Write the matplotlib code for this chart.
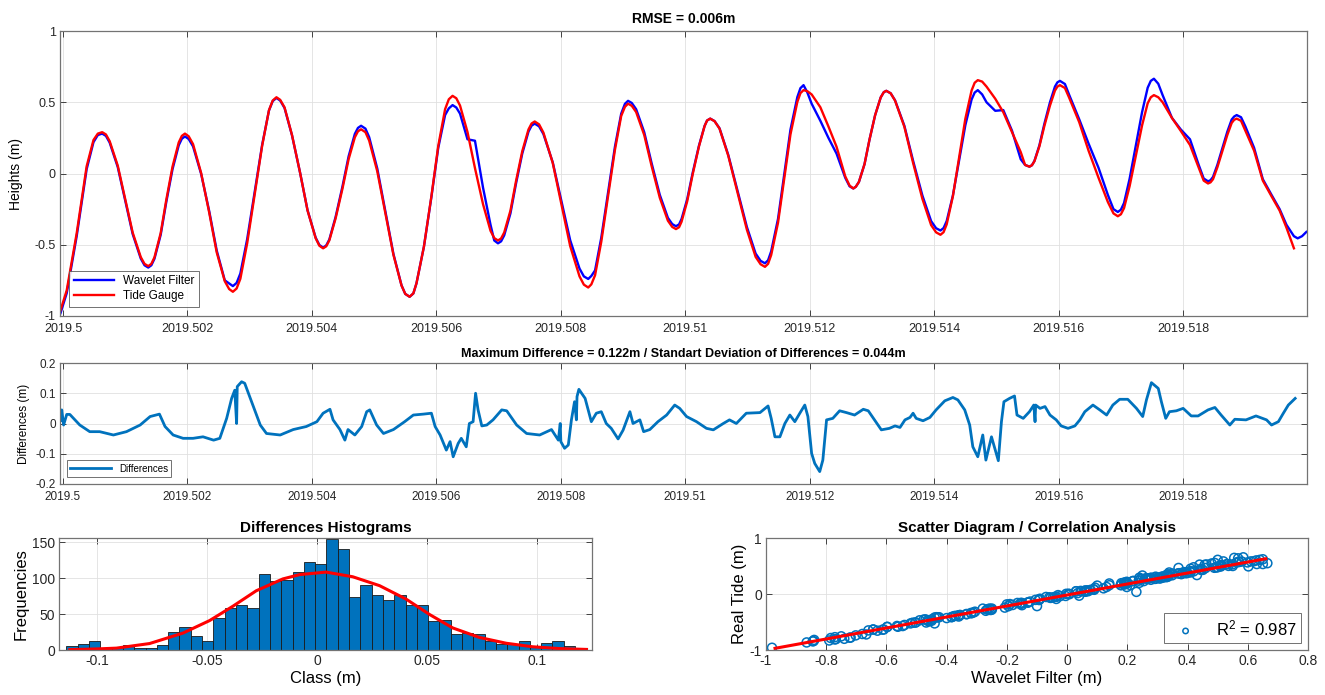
import numpy as np
import matplotlib.pyplot as plt

plt.rcParams['font.family'] = ['Liberation Sans', 'DejaVu Sans']
plt.rcParams['mathtext.fontset'] = 'custom'
plt.rcParams['mathtext.rm'] = 'Liberation Sans'
plt.rcParams['mathtext.it'] = 'Liberation Sans:italic'

# time offsets in 1e-5 year from 2019.5
t_top_e5 = [
    -4, 6, 22, 38, 49, 56, 63, 75, 88, 100, 112, 125, 137, 147, 157, 166, 176, 186,
    196, 209, 222, 235, 247, 260, 273, 285, 296, 308, 320, 331, 343, 356, 368, 381,
    393, 406, 418, 428, 438, 449, 459, 469, 479, 492, 505, 518, 531, 544, 557, 568,
    580, 592, 603, 614, 626, 638, 650, 662, 675, 687, 699, 709, 719, 728, 738, 748,
    758, 772, 787, 801, 815, 830, 844, 855, 865, 876, 887, 897, 908, 921, 934, 946,
    959, 972, 985, 994, 1003, 1012, 1022, 1031, 1040, 1055, 1069, 1084, 1099, 1113,
    1128, 1138, 1149, 1159, 1169, 1180, 1190, 1203, 1217, 1230, 1243, 1257, 1270,
    1279, 1288, 1296, 1305, 1314, 1323, 1337, 1352, 1366, 1381, 1395, 1410, 1420,
    1430, 1440, 1450, 1460, 1470, 1484, 1498, 1511, 1525, 1539, 1553, 1561, 1569,
    1577, 1586, 1594, 1602, 1617, 1633, 1648, 1664, 1679, 1695, 1705, 1714, 1724,
    1734, 1743, 1753, 1767, 1782, 1796, 1811, 1825, 1840, 1848, 1855, 1863, 1871,
    1878, 1886, 1900, 1914, 1928, 1942, 1955, 1966, 1978, 1984, 1991, 1998]

tide_gauge = [
    -0.96, -0.82, -0.42, 0.05, 0.235, 0.28, 0.29, 0.227, 0.055, -0.18, -0.415, -0.587,
    -0.65, -0.588, -0.418, -0.185, 0.048, 0.218, 0.28, 0.206, 0.003, -0.275, -0.553,
    -0.756, -0.83, -0.739, -0.489, -0.148, 0.194, 0.444, 0.535, 0.464, 0.27, 0.005,
    -0.26, -0.454, -0.525, -0.469, -0.316, -0.108, 0.101, 0.254, 0.31, 0.231, 0.016,
    -0.278, -0.571, -0.786, -0.865, -0.771, -0.513, -0.16, 0.193, 0.451, 0.545, 0.477,
    0.291, 0.038, -0.216, -0.402, -0.47, -0.414, -0.261, -0.053, 0.156, 0.309, 0.365,
    0.287, 0.074, -0.218, -0.509, -0.722, -0.80, -0.714, -0.478, -0.155, 0.168, 0.404,
    0.49, 0.431, 0.27, 0.05, -0.17, -0.331, -0.39, -0.338, -0.196, -0.003, 0.191, 0.333,
    0.385, 0.315, 0.125, -0.135, -0.395, -0.585, -0.655, -0.572, -0.345, -0.035, 0.275,
    0.502, 0.585, 0.555, 0.465, 0.33, 0.188, -0.02, -0.105, -0.059, 0.066, 0.238, 0.409,
    0.534, 0.58, 0.512, 0.328, 0.075, -0.178, -0.362, -0.43, -0.357, -0.159, 0.113,
    0.384, 0.582, 0.655, 0.61, 0.525, 0.43, 0.29, 0.15, 0.048, 0.086, 0.191, 0.334,
    0.477, 0.582, 0.62, 0.53, 0.36, 0.16, -0.03, -0.20, -0.30, -0.243, -0.088, 0.125,
    0.338, 0.493, 0.55, 0.50, 0.39, 0.30, 0.20, 0.04, -0.07, -0.04, 0.044, 0.158, 0.271,
    0.355, 0.385, 0.30, 0.16, -0.05, -0.16, -0.26, -0.38, -0.525, np.nan, np.nan, np.nan]

wavelet_filter = [
    -0.98, -0.84, -0.44, 0.03, 0.22, 0.27, 0.28, 0.217, 0.045, -0.19, -0.425, -0.597,
    -0.66, -0.598, -0.43, -0.20, 0.03, 0.198, 0.26, 0.19, -0.003, -0.265, -0.54,
    -0.75, -0.79, -0.702, -0.46, -0.13, 0.20, 0.442, 0.53, 0.46, 0.268, 0.005,
    -0.258, -0.45, -0.52, -0.463, -0.306, -0.093, 0.121, 0.278, 0.335, 0.255, 0.035,
    -0.265, -0.565, -0.785, -0.865, -0.771, -0.513, -0.165, 0.18, 0.41, 0.48, 0.42,
    0.24, 0.23, -0.10, -0.36, -0.49, -0.434, -0.28, -0.07, 0.14, 0.294, 0.35,
    0.277, 0.078, -0.195, -0.468, -0.667, -0.74, -0.68, -0.45, -0.13, 0.19, 0.42,
    0.51, 0.451, 0.29, 0.07, -0.15, -0.311, -0.37, -0.319, -0.181, 0.008, 0.196, 0.334,
    0.385, 0.317, 0.131, -0.123, -0.376, -0.562, -0.63, -0.546, -0.318, -0.005, 0.308,
    0.536, 0.62, 0.49, 0.37, 0.25, 0.14, -0.03, -0.105, -0.059, 0.066, 0.238, 0.409,
    0.534, 0.58, 0.514, 0.335, 0.09, -0.155, -0.334, -0.40, -0.334, -0.154, 0.093,
    0.339, 0.519, 0.585, 0.50, 0.44, 0.445, 0.30, 0.10, 0.048, 0.088, 0.198, 0.349,
    0.50, 0.61, 0.65, 0.55, 0.38, 0.21, 0.04, -0.15, -0.27, -0.207, -0.036, 0.198,
    0.431, 0.602, 0.665, 0.55, 0.39, 0.31, 0.24, 0.06, -0.055, -0.024, 0.061, 0.178,
    0.294, 0.379, 0.41, 0.33, 0.18, -0.04, -0.15, -0.25, -0.36, -0.44, -0.455, -0.44, -0.41]

# extra readings close to each crest and trough of the top panel
t_crest_e5 = [
    69, 131, 142, 191, 202, 267, 279, 337, 349, 412, 423, 474, 486, 550, 563, 620, 632,
    693, 704, 753, 765, 837, 849, 903, 914, 979, 990, 1035, 1047, 1121, 1133, 1185, 1196,
    1264, 1274, 1319, 1330, 1403, 1415, 1465, 1477, 1546, 1557, 1598, 1610, 1688, 1700,
    1748, 1760, 1833, 1844, 1882, 1893]
tide_crest = [
    0.274, -0.634, -0.634, 0.264, 0.261, -0.811, -0.807, 0.512, 0.517, -0.507, -0.511,
    0.296, 0.29, -0.845, -0.841, 0.521, 0.528, -0.453, -0.456, 0.351, 0.345, -0.78,
    -0.778, 0.468, 0.475, -0.375, -0.377, 0.372, 0.367, -0.637, -0.634, 0.564, 0.578,
    -0.085, -0.093, 0.571, 0.563, -0.413, -0.412, 0.637, 0.645, 0.06, 0.058, 0.61, 0.60,
    -0.28, -0.286, 0.535, 0.535, -0.05, -0.062, 0.377, 0.37]
wavelet_crest = [
    0.264, -0.644, -0.644, 0.244, 0.242, -0.772, -0.768, 0.508, 0.512, -0.502, -0.505,
    0.32, 0.315, -0.845, -0.842, 0.457, 0.463, -0.47, -0.476, 0.336, 0.331, -0.722,
    -0.719, 0.489, 0.495, -0.355, -0.357, 0.372, 0.368, -0.613, -0.609, 0.599, 0.57,
    -0.09, -0.093, 0.571, 0.563, -0.384, -0.383, 0.568, 0.555, 0.06, 0.058, 0.64, 0.628,
    -0.25, -0.254, 0.65, 0.63, -0.035, -0.047, 0.40, 0.395]

# differences series, offsets in 1e-5 year from 2019.5
t_diff_e5 = [
    -4, -2, 1, 6, 11, 27, 43, 59, 81, 102, 124, 140, 155, 164, 177, 193, 209, 225, 242,
    252, 263, 271, 276, 279, 280, 287, 292, 306, 317, 327, 349, 370, 391, 408, 418, 429,
    434, 445, 453, 458, 469, 480, 488, 493, 504, 515, 531, 549, 563, 579, 592, 598, 606,
    616, 622, 627, 635, 640, 648, 653, 659, 663, 667, 673, 681, 691, 705, 713, 729, 745,
    766, 785, 796, 799, 800, 806, 812, 817, 822, 825, 826, 829, 839, 849, 857, 865, 873,
    881, 892, 900, 911, 916, 927, 933, 943, 956, 970, 983, 991, 1002, 1018, 1034, 1045,
    1061, 1071, 1082, 1098, 1120, 1133, 1138, 1144, 1152, 1160, 1168, 1176, 1184, 1192,
    1197, 1203, 1208, 1216, 1221, 1227, 1237, 1248, 1259, 1272, 1286, 1294, 1304, 1315,
    1328, 1337, 1345, 1353, 1361, 1366, 1371, 1382, 1393, 1403, 1417, 1430, 1438, 1449,
    1457, 1462, 1470, 1478, 1483, 1492, 1503, 1508, 1512, 1521, 1529, 1533, 1543, 1553,
    1560, 1562, 1563, 1570, 1578, 1586, 1596, 1604, 1615, 1626, 1634, 1642, 1655, 1666,
    1677, 1687, 1698, 1711, 1725, 1735, 1741, 1749, 1760, 1765, 1772, 1778, 1789, 1800,
    1813, 1824, 1840, 1851, 1861, 1875, 1883, 1901, 1917, 1934, 1942, 1953, 1961, 1969,
    1980]

differences = [
    0.01, 0.045, -0.005, 0.03, 0.03, -0.005, -0.027, -0.027, -0.038, -0.027, -0.005,
    0.023, 0.031, -0.01, -0.038, -0.049, -0.049, -0.044, -0.055, -0.049, 0.017, 0.083,
    0.11, 0.0, 0.122, 0.138, 0.133, 0.056, -0.005, -0.033, -0.038, -0.02, -0.01, 0.006,
    0.034, 0.047, 0.012, -0.02, -0.055, -0.02, -0.038, -0.01, 0.039, 0.045, -0.005,
    -0.033, -0.02, 0.006, 0.028, 0.031, 0.034, -0.01, -0.038, -0.088, -0.06, -0.11,
    -0.066, -0.049, -0.077, 0.0, 0.006, 0.10, 0.045, -0.008, -0.005, 0.012, 0.045, 0.042,
    -0.005, -0.033, -0.038, -0.02, -0.055, 0.0, -0.06, -0.082, -0.071, 0.012, 0.072,
    0.012, 0.089, 0.113, 0.083, 0.006, 0.034, 0.039, 0.0, -0.016, -0.051, -0.022, 0.039,
    0.0, 0.012, -0.027, -0.02, 0.006, 0.028, 0.061, 0.05, 0.023, 0.006, -0.016, -0.021,
    0.0, 0.012, 0.0, 0.034, 0.036, 0.058, 0.017, -0.044, -0.044, 0.0, 0.028, 0.006,
    0.034, 0.061, 0.023, -0.099, -0.132, -0.159, -0.121, 0.012, 0.017, 0.042, 0.036,
    0.028, 0.047, 0.042, 0.012, -0.021, -0.016, -0.008, -0.013, 0.012, 0.02, 0.034,
    0.017, 0.009, 0.02, 0.045, 0.075, 0.086, 0.078, 0.045, -0.005, -0.077, -0.11, -0.038,
    -0.121, -0.044, -0.123, 0.006, 0.072, 0.083, 0.091, 0.028, 0.017, 0.039, 0.061,
    0.006, 0.061, 0.05, 0.056, 0.028, 0.012, -0.008, -0.016, -0.008, 0.012, 0.039, 0.061,
    0.045, 0.028, 0.061, 0.08, 0.08, 0.05, 0.023, 0.078, 0.135, 0.116, 0.072, 0.017,
    0.039, 0.042, 0.05, 0.025, 0.025, 0.045, 0.053, 0.028, -0.005, 0.014, 0.012, 0.025,
    0.012, -0.005, 0.006, 0.034, 0.061, 0.083]

# histogram of differences
hist_start = -0.114
hist_width = 0.00514
hist_counts = [6, 8, 12, 3, 4, 7, 3, 3, 7, 25, 32, 19, 12, 45, 58, 63, 59, 106, 96, 98,
               108, 122, 120, 155, 140, 74, 90, 76, 69, 77, 62, 63, 41, 42, 22, 24, 22,
               13, 9, 8, 13, 5, 10, 12, 6]

# fitted normal curve drawn over the histogram
fit_x = [-0.1125, -0.1, -0.0913, -0.0762, -0.061, -0.0489, -0.0383, -0.0277, -0.0156,
         -0.008, 0.0041, 0.0162, 0.0284, 0.0405, 0.0511, 0.0617, 0.0738, 0.086, 0.098,
         0.110, 0.1225]
fit_y = [0.5, 1.5, 2.6, 9, 23.6, 41, 61, 82.5, 99, 105, 108.5, 102, 89.6, 70.8, 49.5,
         30.7, 17.5, 9.4, 4.5, 2.0, 0.8]

# regression line of the scatter diagram
reg_x = [-0.97, 0.66]
reg_y = [-0.97, 0.63]

BLUE_M = '#0072BD'

# merge the crest readings into the top series
t_all = np.concatenate([t_top_e5, t_crest_e5])
order = np.argsort(t_all, kind='stable')
t_top = 2019.5 + t_all[order] * 1e-5
tide_all = np.concatenate([tide_gauge, tide_crest])[order]
wave_all = np.concatenate([wavelet_filter, wavelet_crest])[order]
t_diff = 2019.5 + np.array(t_diff_e5) * 1e-5

W, H = 1325, 695
fig = plt.figure(figsize=(W / 100, H / 100), dpi=100, facecolor='white')


def px_axes(x0, y0, x1, y1):
    return fig.add_axes([x0 / W, (H - y1) / H, (x1 - x0) / W, (y1 - y0) / H])


def style(ax, size):
    ax.tick_params(direction='in', top=True, right=True, length=4, width=0.6,
                   labelsize=size, colors='0.15', pad=3)
    for s in ax.spines.values():
        s.set_color('0.45')
        s.set_linewidth(0.9)
    ax.grid(True, color='0.88', linewidth=0.6)
    ax.set_axisbelow(True)


def year_fmt(v):
    return f'{v:.3f}'.rstrip('0')


x_ticks = [2019.5 + 0.002 * i for i in range(10)]
x_lim = (2019.5 - 4.8e-5, 2019.5 + 1999e-5)

# top panel
ax1 = px_axes(60, 31, 1307, 316)
style(ax1, 9)
ax1.tick_params(axis='x', pad=5)
ax1.plot(t_top, wave_all, color='#0000FF', lw=1.7, solid_joinstyle='round',
         label='Wavelet Filter')
ax1.plot(t_top, tide_all, color='#FF0000', lw=1.7, solid_joinstyle='round',
         label='Tide Gauge')
ax1.set_xlim(*x_lim)
ax1.set_ylim(-1, 1)
ax1.set_xticks(x_ticks, [year_fmt(v) for v in x_ticks])
ax1.set_yticks([-1, -0.5, 0, 0.5, 1], ['-1', '-0.5', '0', '0.5', '1'])
ax1.set_ylabel('Heights (m)', fontsize=10, labelpad=8)
ax1.set_title('RMSE = 0.006m', fontsize=10, fontweight='bold', pad=6)
leg1 = ax1.legend(loc='lower left', fontsize=8.5, frameon=True, fancybox=False,
                  borderpad=0.35, handlelength=3.4, labelspacing=0.25,
                  borderaxespad=0.8)
leg1.get_frame().set_edgecolor('0.3')
leg1.get_frame().set_linewidth(0.7)

# differences panel
ax2 = px_axes(60, 363, 1307, 484)
style(ax2, 8.5)
ax2.tick_params(axis='x', pad=5)
ax2.plot(t_diff, differences, color=BLUE_M, lw=2.0, solid_joinstyle='round',
         label='Differences')
ax2.set_xlim(*x_lim)
ax2.set_ylim(-0.2, 0.2)
ax2.set_xticks(x_ticks, [year_fmt(v) for v in x_ticks])
ax2.set_yticks([-0.2, -0.1, 0, 0.1, 0.2], ['-0.2', '-0.1', '0', '0.1', '0.2'])
ax2.set_ylabel('Differences (m)', fontsize=8.5, labelpad=4)
ax2.set_title('Maximum Difference = 0.122m / Standart Deviation of Differences = 0.044m',
              fontsize=9, fontweight='bold', pad=4)
leg2 = ax2.legend(loc='lower left', fontsize=7, frameon=True, fancybox=False,
                  borderpad=0.35, handlelength=4.2, borderaxespad=0.7)
leg2.get_frame().set_edgecolor('0.3')
leg2.get_frame().set_linewidth(0.7)

# histogram panel
ax3 = px_axes(59, 538, 592, 650)
style(ax3, 10)
left_edges = hist_start + hist_width * np.arange(len(hist_counts))
ax3.bar(left_edges, hist_counts, width=hist_width, align='edge', color=BLUE_M,
        edgecolor='#1a1a1a', linewidth=0.6)
ax3.plot(fit_x, fit_y, color='#FF0000', lw=2.2, solid_joinstyle='round')
ax3.set_xlim(-0.1174, 0.125)
ax3.set_ylim(0, 156)
ax3.set_xticks([-0.1, -0.05, 0, 0.05, 0.1], ['-0.1', '-0.05', '0', '0.05', '0.1'])
ax3.set_yticks([0, 50, 100, 150])
ax3.set_xlabel('Class (m)', fontsize=12, labelpad=2)
ax3.set_ylabel('Frequencies', fontsize=12, labelpad=2)
ax3.set_title('Differences Histograms', fontsize=11, fontweight='bold', pad=4)

# scatter panel
ax4 = px_axes(766, 538, 1308, 650)
style(ax4, 10)
ax4.scatter(wave_all, tide_all, s=42, facecolors='none', edgecolors=BLUE_M,
            linewidths=1.1, label=r'R$^2$ = 0.987')
ax4.plot(reg_x, reg_y, color='#FF0000', lw=2.2)
ax4.set_xlim(-1, 0.8)
ax4.set_ylim(-1, 1)
ax4.set_xticks([-1, -0.8, -0.6, -0.4, -0.2, 0, 0.2, 0.4, 0.6, 0.8],
               ['-1', '-0.8', '-0.6', '-0.4', '-0.2', '0', '0.2', '0.4', '0.6', '0.8'])
ax4.set_yticks([-1, 0, 1], ['-1', '0', '1'])
ax4.set_xlabel('Wavelet Filter (m)', fontsize=12, labelpad=2)
ax4.set_ylabel('Real Tide (m)', fontsize=12, labelpad=2)
ax4.set_title('Scatter Diagram / Correlation Analysis', fontsize=11, fontweight='bold', pad=4)
leg4 = ax4.legend(loc='lower right', fontsize=12, frameon=True, fancybox=False,
                  borderpad=0.3, handletextpad=0.8, borderaxespad=0.4, markerscale=0.6)
leg4.get_frame().set_edgecolor('0.3')
leg4.get_frame().set_linewidth(0.7)

fig.savefig('out.png', dpi=100, facecolor='white')
